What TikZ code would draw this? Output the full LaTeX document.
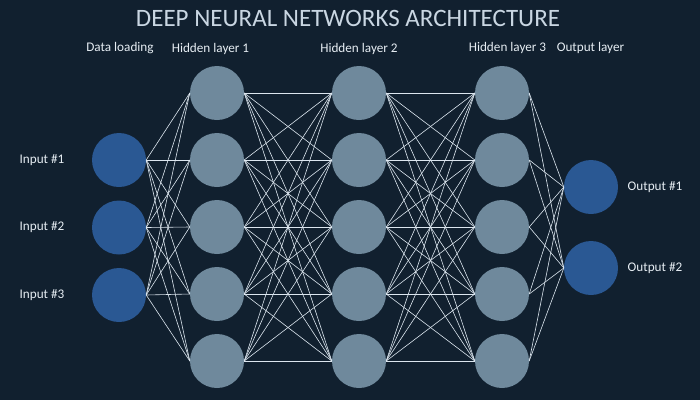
\documentclass[tikz,border=0pt]{standalone}
\usepackage{fontspec}
\setmainfont{Carlito}
\definecolor{bg}{HTML}{11202F}
\definecolor{inblue}{HTML}{2A5893}
\definecolor{hidgrey}{HTML}{6F899C}
\definecolor{linec}{HTML}{DCE6EF}
\definecolor{txt}{HTML}{E6EDF3}
\definecolor{ttl}{HTML}{C9D6E2}
\begin{document}
\begin{tikzpicture}[x=1pt,y=-1pt,
  inp/.style={circle, fill=inblue, minimum size=54pt, inner sep=0pt},
  hid/.style={circle, fill=hidgrey, minimum size=54pt, inner sep=0pt},
  lbl/.style={text=txt, font=\fontsize{13.2}{15}\selectfont, inner sep=0pt},
  ttlstyle/.style={text=ttl, font=\fontsize{25}{28}\selectfont, inner sep=0pt},
  conn/.style={draw=linec, line width=0.6pt}]
\fill[bg] (0,0) rectangle (700,400);
\useasboundingbox (0,0) rectangle (700,400);
% title and layer labels
\node[ttlstyle] (title) at (348,18) {DEEP NEURAL NETWORKS ARCHITECTURE};
\node[lbl] (l0) at (120,48) {Data loading};
\node[lbl] (l1) at (210.5,49) {Hidden layer 1};
\node[lbl] (l2) at (359,49) {Hidden layer 2};
\node[lbl] (l3) at (507.5,48) {Hidden layer 3};
\node[lbl] (l4) at (590.5,48) {Output layer};
% nodes
\foreach \k/\y in {1/160,2/227.5,3/295} {
  \node[inp] (i\k) at (119,\y) {};
  \node[lbl] (li\k) at (42,\y) {Input \#\k};
}
\foreach \k/\y in {1/93,2/160,3/227,4/294,5/361} {
  \node[hid] (a\k) at (217,\y) {};
  \node[hid] (b\k) at (359,\y) {};
  \node[hid] (c\k) at (502,\y) {};
}
\foreach \k/\y in {1/187,2/268} {
  \node[inp] (o\k) at (591,\y) {};
  \node[lbl] (lo\k) at (655,\y) {Output \#\k};
}
% connections
\foreach \s in {1,2,3} \foreach \t in {1,...,5} \draw[conn] (i\s.east) -- (a\t.west);
\foreach \s in {1,...,5} \foreach \t in {1,...,5} \draw[conn] (a\s.east) -- (b\t.west);
\foreach \s in {1,...,5} \foreach \t in {1,...,5} \draw[conn] (b\s.east) -- (c\t.west);
\foreach \s in {1,...,5} \foreach \t in {1,2} \draw[conn] (c\s.east) -- (o\t.west);
\end{tikzpicture}
\end{document}
